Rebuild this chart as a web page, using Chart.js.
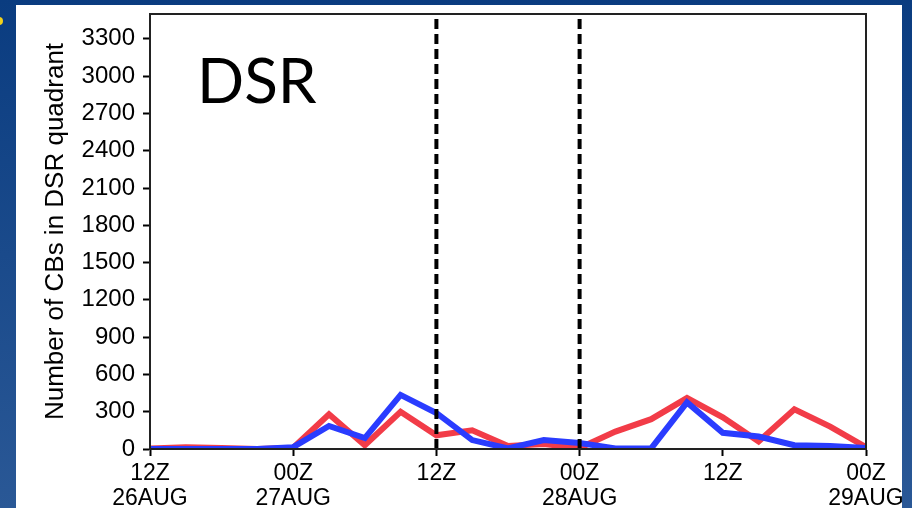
<!DOCTYPE html>
<html>
<head>
<meta charset="utf-8">
<title>DSR</title>
<script src="https://cdn.jsdelivr.net/npm/chart.js@4/dist/chart.umd.min.js"></script>
<style>
  html, body { margin: 0; padding: 0; background: #0b3d80; }
  #wrap { position: relative; width: 912px; height: 508px; }
  canvas { display: block; }
</style>
</head>
<body>
<div id="wrap"><canvas id="cv" width="912" height="508"></canvas></div>
<script>
// Hours since 12Z 26 AUG, one sample every 3 hours
const hours = [0, 3, 6, 9, 12, 15, 18, 21, 24, 27, 30, 33, 36, 39, 42, 45, 48, 51, 54, 57, 60];

// Number of CBs in the DSR quadrant
const redCounts  = [5, 15, 8, 0, 10, 280, 30, 300, 110, 150, 25, 40, 8, 140, 240, 410, 255, 60, 320, 180, 15];
const blueCounts = [0, 0, 0, 0, 15, 185, 88, 435, 290, 72, 5, 72, 48, 5, 5, 375, 130, 100, 30, 24, 8];

// Axis tick labels
const tickHours   = [0, 12, 24, 36, 48, 60];
const hourLabels  = ['12Z', '00Z', '12Z', '00Z', '12Z', '00Z'];
const dayLabels   = ['26AUG', '27AUG', '', '28AUG', '', '29AUG'];

// Vertical reference markers (hours)
const markerHours = [24, 36];

const yMax = 3500;
const yStep = 300;

const toPoints = (vals) => vals.map((v, i) => ({ x: hours[i], y: v }));

const markerSets = markerHours.map(h => ({
  data: [{ x: h, y: 0 }, { x: h, y: yMax }],
  borderColor: '#000000',
  borderWidth: 4,
  borderDash: [10, 5],
  pointRadius: 0,
  order: 0
}));

const slideBackground = {
  id: 'slideBackground',
  beforeDraw(chart) {
    const ctx = chart.ctx;
    const w = chart.width, h = chart.height;
    ctx.save();
    const g = ctx.createLinearGradient(0, 0, 0, h);
    g.addColorStop(0, '#0a3c80');
    g.addColorStop(1, '#2a5896');
    ctx.fillStyle = g;
    ctx.fillRect(0, 0, w, h);
    ctx.fillStyle = '#ffffff';
    ctx.fillRect(16, 5, 886, h - 5);
    ctx.fillStyle = '#f2d21a';
    ctx.beginPath();
    ctx.arc(-1, 21, 4, 0, Math.PI * 2);
    ctx.fill();
    ctx.restore();
  }
};

const frameAndLabel = {
  id: 'frameAndLabel',
  afterDraw(chart) {
    const ctx = chart.ctx;
    const a = chart.chartArea;
    ctx.save();
    ctx.strokeStyle = '#222222';
    ctx.lineWidth = 2;
    ctx.strokeRect(a.left, a.top, a.right - a.left, a.bottom - a.top);
    ctx.fillStyle = '#000000';
    ctx.font = '62px Lato, "Open Sans", sans-serif';
    ctx.textBaseline = 'alphabetic';
    ctx.textAlign = 'left';
    ctx.fillText('DSR', 197, 103);
    ctx.restore();
  }
};

new Chart(document.getElementById('cv'), {
  type: 'line',
  data: {
    datasets: [
      ...markerSets,
      {
        label: 'blue',
        data: toPoints(blueCounts),
        borderColor: '#2a3cff',
        borderWidth: 6,
        pointRadius: 0,
        tension: 0,
        borderJoinStyle: 'miter',
        order: 1
      },
      {
        label: 'red',
        data: toPoints(redCounts),
        borderColor: '#f23c48',
        borderWidth: 6,
        pointRadius: 0,
        tension: 0,
        borderJoinStyle: 'miter',
        order: 2
      }
    ]
  },
  options: {
    responsive: false,
    animation: false,
    events: [],
    layout: { padding: { left: 0, right: 46, top: 14, bottom: 0 } },
    plugins: { legend: { display: false }, tooltip: { enabled: false } },
    scales: {
      x: {
        type: 'linear',
        min: 0,
        max: 60,
        afterFit(scale) { scale.height = 59; },
        afterBuildTicks(scale) { scale.ticks = tickHours.map(v => ({ value: v })); },
        border: { display: true, color: '#000000', width: 2 },
        grid: { display: true, drawOnChartArea: false, drawTicks: true, tickLength: 7, tickWidth: 2, tickColor: '#000000' },
        ticks: {
          color: '#000000',
          maxRotation: 0,
          autoSkip: false,
          padding: 5,
          font: { family: '"Liberation Sans", Arial, sans-serif', size: 23, lineHeight: 1.08 },
          callback(value) {
            const i = tickHours.indexOf(value);
            if (i < 0) return '';
            return dayLabels[i] ? [hourLabels[i], dayLabels[i]] : [hourLabels[i]];
          }
        }
      },
      y: {
        min: 0,
        max: yMax,
        afterFit(scale) {
          scale.width = 150;
          scale.paddingTop = 0;
          scale.paddingBottom = 0;
        },
        border: { display: true, color: '#000000', width: 2 },
        grid: { display: true, drawOnChartArea: false, drawTicks: true, tickLength: 7, tickWidth: 2, tickColor: '#000000' },
        ticks: {
          stepSize: yStep,
          includeBounds: false,
          color: '#000000',
          padding: 8,
          font: { family: '"Liberation Sans", Arial, sans-serif', size: 24 },
          callback(value) { return value % yStep === 0 ? String(value) : ''; }
        },
        title: {
          display: true,
          text: 'Number of CBs in DSR quadrant',
          color: '#000000',
          font: { family: '"Liberation Sans", Arial, sans-serif', size: 26, lineHeight: 1.2 },
          padding: { top: 40, bottom: 0 }
        }
      }
    }
  },
  plugins: [slideBackground, frameAndLabel]
});
</script>
</body>
</html>
